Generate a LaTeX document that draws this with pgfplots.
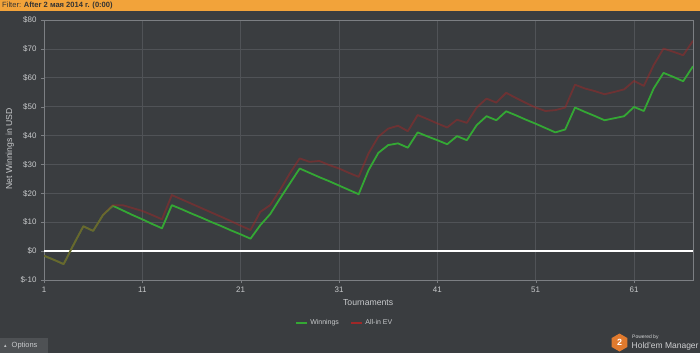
\documentclass[border=0pt]{standalone}
\usepackage{pgfplots}
\pgfplotsset{compat=1.18}
\usepackage{fontspec}
\setmainfont{Liberation Sans}
\newfontfamily\djv{DejaVu Sans}
\usetikzlibrary{shapes.geometric}
\definecolor{bg}{HTML}{3A3D40}
\definecolor{barorange}{HTML}{F2A33A}
\definecolor{gridc}{HTML}{505357}
\definecolor{framec}{HTML}{7C7F83}
\definecolor{txt}{HTML}{C8CACC}
\definecolor{wincol}{HTML}{34A834}
\definecolor{evcol}{HTML}{A02828}
\definecolor{optbox}{HTML}{4E5154}
\definecolor{hmorange}{HTML}{E07A2E}

\pgfplotstableread{
x w e
1 -1.6 -1.6
2 -3.0 -3.0
3 -4.5 -4.5
4 2.2 2.2
5 8.6 8.6
6 7.0 7.0
7 12.5 12.5
8 15.7 15.9
9 14.1 15.9
10 12.5 14.9
11 11.0 13.9
12 9.4 12.5
13 7.9 11.0
14 15.9 19.4
15 14.5 17.9
16 13.0 16.4
17 11.6 14.9
18 10.1 13.4
19 8.7 11.9
20 7.2 10.4
21 5.8 8.8
22 4.3 7.3
23 9.0 13.6
24 12.8 15.9
25 18.2 21.1
26 23.4 26.9
27 28.6 32.1
28 27.1 30.9
29 25.6 31.2
30 24.2 29.8
31 22.7 28.6
32 21.2 27.1
33 19.7 25.7
34 28.0 33.8
35 34.0 39.6
36 36.7 42.4
37 37.3 43.4
38 35.8 41.5
39 41.1 47.1
40 39.7 45.7
41 38.4 44.2
42 37.0 42.8
43 39.8 45.5
44 38.4 44.4
45 43.6 49.7
46 46.7 52.8
47 45.3 51.4
48 48.4 54.8
49 47.0 53.0
50 45.5 51.3
51 44.1 49.7
52 42.6 48.5
53 41.1 48.8
54 42.1 49.7
55 49.7 57.6
56 48.2 56.3
57 46.8 55.4
58 45.3 54.3
59 46.0 55.1
60 46.7 56.0
61 49.9 58.9
62 48.5 57.2
63 56.3 64.4
64 61.7 70.1
65 60.3 69.0
66 58.8 67.8
67 64.0 72.8
}\data

\begin{document}
\begin{tikzpicture}[x=1bp,y=1bp]
\fill[bg] (0,0) rectangle (700,353);
\fill[barorange] (0,342) rectangle (700,353);
\node[anchor=west, inner sep=0, font=\fontsize{7.6}{9}\selectfont, text=black!80] at (2,347.5) {Filter: \textbf{After 2 мая 2014 г. (0:00)}};
% Options button
\fill[optbox] (0,0) rectangle (48,15);
\node[anchor=west, inner sep=0, font=\fontsize{7.5}{9}\selectfont, text=txt] at (4,7.5) {{\djv\fontsize{5}{6}\selectfont ▴}\hspace{5bp}Options};
% HM logo
\node[regular polygon, regular polygon sides=6, shape border rotate=30, fill=hmorange, minimum size=18bp, inner sep=0, text=white, font=\bfseries\fontsize{9}{10}\selectfont] at (619.5,10.5) {2};
\node[anchor=west, inner sep=0, font=\fontsize{5}{6}\selectfont, text=txt!80] at (632,15.5) {Powered by};
\node[anchor=west, inner sep=0, font=\fontsize{8.5}{10}\selectfont, text=txt!90] at (631.5,7) {Hold'em Manager};

\begin{axis}[
  at={(44bp,73bp)}, anchor=south west,
  scale only axis, width=649bp, height=260bp,
  xmin=1, xmax=67, ymin=-10, ymax=80,
  xtick={1,11,21,31,41,51,61},
  ytick={-10,0,10,20,30,40,50,60,70,80},
  yticklabels={\$-10,\$0,\$10,\$20,\$30,\$40,\$50,\$60,\$70,\$80},
  xticklabels={1,11,21,31,41,51,61},
  grid=major, major grid style={gridc, line width=0.7bp},
  axis line style={framec, line width=0.8bp},
  tick style={framec}, tick align=outside, major tick length=3bp,
  xtick pos=bottom, ytick pos=left,
  ticklabel style={font=\fontsize{8}{9}\selectfont, text=txt},
  yticklabel style={xshift=-1bp},
  xlabel={Tournaments}, ylabel={Net Winnings in USD},
  every axis x label/.style={at={(axis description cs:0.4995,-0.085)}, anchor=center, font=\fontsize{8.7}{10}\selectfont, text=txt, color=txt},
  every axis y label/.style={at={(axis description cs:-0.0524,0.504)}, rotate=90, anchor=center, font=\fontsize{8.7}{10}\selectfont, text=txt, color=txt},
  legend columns=2,
  legend style={at={(axis description cs:0.463,-0.1654)}, anchor=center, draw=none, fill=none,
    font=\fontsize{7}{8}\selectfont, text=txt, /tikz/every even column/.append style={column sep=9bp}},
  legend image code/.code={\draw[#1, opacity=1, line width=2.5bp] (0bp,0bp) -- (11bp,0bp);},
]
\addplot[white, line width=1.6bp, forget plot] coordinates {(1,0) (67,0)};
\addplot[wincol, line width=1.8bp, line join=round] table[x=x, y=w] {\data};
\addlegendentry{Winnings}
\addplot[evcol, line width=1.8bp, line join=round, opacity=0.5] table[x=x, y=e] {\data};
\addlegendentry{All-in EV}
\end{axis}
\end{tikzpicture}
\end{document}
